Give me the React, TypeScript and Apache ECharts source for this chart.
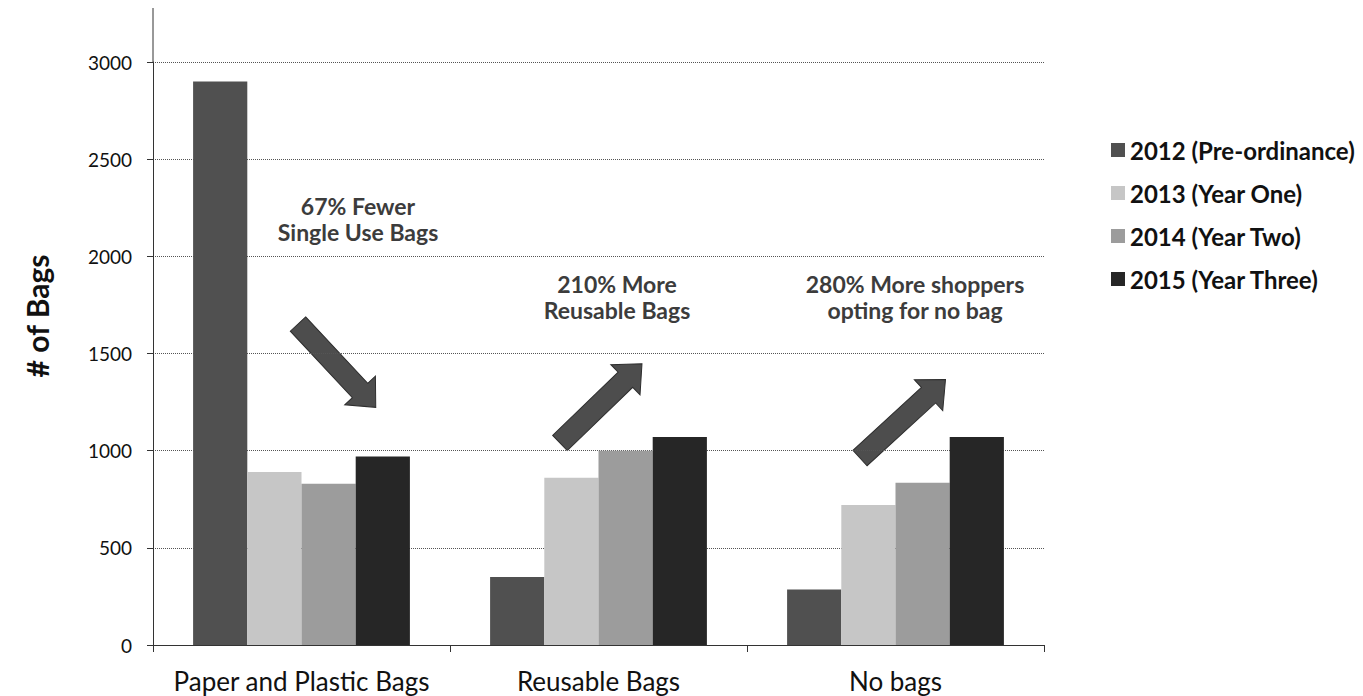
import React, { useEffect, useRef } from "react";
import * as echarts from "echarts";

const categories = ["Paper and Plastic Bags", "Reusable Bags", "No bags"];
const seriesNames = ["2012 (Pre-ordinance)", "2013 (Year One)", "2014 (Year Two)", "2015 (Year Three)"];
const values2012 = [2900, 350, 285];
const values2013 = [890, 860, 720];
const values2014 = [830, 1000, 835];
const values2015 = [970, 1070, 1070];
const seriesColors = ["#505050", "#c6c6c6", "#9c9c9c", "#262626"];
const yTicks = [0, 500, 1000, 1500, 2000, 2500, 3000];

const annotations = [
  { lines: ["67% Fewer", "Single Use Bags"], x: 358, y: 206 },
  { lines: ["210% More", "Reusable Bags"], x: 617, y: 284 },
  { lines: ["280% More shoppers", "opting for no bag"], x: 915, y: 284 },
];

const arrows = [
  { x: 298, y: 324, len: 114, angle: -47 },
  { x: 560, y: 443, len: 114, angle: 44 },
  { x: 860, y: 458, len: 116, angle: 42.5 },
];

function arrowShape(a: { x: number; y: number; len: number; angle: number }) {
  const L = a.len;
  const bw = 10.5;
  const hw = 21;
  const hl = 23;
  return {
    type: "group",
    x: a.x,
    y: a.y,
    rotation: (a.angle * Math.PI) / 180,
    children: [
      {
        type: "polygon",
        shape: {
          points: [
            [0, -bw],
            [L - hl, -bw],
            [L - hl, -hw],
            [L, 0],
            [L - hl, hw],
            [L - hl, bw],
            [0, bw],
          ],
        },
        style: { fill: "#4d4d4d", stroke: "#2e2e2e", lineWidth: 1 },
      },
    ],
  };
}

export default function App() {
  const ref = useRef<HTMLDivElement>(null);
  useEffect(() => {
    if (!ref.current) return;
    const chart = echarts.init(ref.current, undefined, { renderer: "svg" });
    const font = "Lato, 'Open Sans', sans-serif";
    const all = [values2012, values2013, values2014, values2015];
    const option: any = {
      animation: false,
      backgroundColor: "#ffffff",
      textStyle: { fontFamily: font },
      grid: { left: 153, right: 319, top: 62, bottom: 51, containLabel: false },
      legend: {
        orient: "vertical",
        left: 1106,
        top: 133,
        itemWidth: 14,
        itemHeight: 14,
        itemGap: 19,
        icon: "rect",
        data: seriesNames,
        textStyle: { fontFamily: font, fontSize: 24, fontWeight: "bold", color: "#111" },
      },
      xAxis: {
        type: "category",
        data: categories,
        axisLine: { lineStyle: { color: "#333", width: 1 } },
        axisTick: { show: true, alignWithLabel: false, interval: 0, length: 7, lineStyle: { color: "#333" } },
        axisLabel: { interval: 0, fontFamily: font, fontSize: 26, color: "#111", margin: 23 },
      },
      yAxis: {
        type: "value",
        min: 0,
        max: 3000,
        interval: 500,
        axisLine: { show: true, lineStyle: { color: "#333", width: 1 } },
        axisTick: { show: true, length: 6, lineStyle: { color: "#333" } },
        axisLabel: {
          fontFamily: font,
          fontSize: 19,
          color: "#111",
          margin: 21,
          formatter: (v: number) => (yTicks.includes(v) ? String(v) : ""),
        },
        splitLine: { show: true, lineStyle: { color: "#555", type: "dotted", width: 1 } },
      },
      series: seriesNames.map((name, i) => ({
        name,
        type: "bar",
        data: all[i],
        barGap: "0%",
        barCategoryGap: "27%",
        itemStyle: { color: seriesColors[i] },
      })),
      graphic: [
        { type: "line", shape: { x1: 153, y1: 8, x2: 153, y2: 62 }, style: { stroke: "#333", lineWidth: 1 } },
        {
          type: "text",
          x: 37,
          y: 316,
          rotation: Math.PI / 2,
          style: {
            text: "# of Bags",
            fontFamily: font,
            fontSize: 30,
            fontWeight: "bold",
            fill: "#111",
            textAlign: "center",
            textVerticalAlign: "middle",
          },
        },
        ...annotations.flatMap((a) =>
          a.lines.map((t, j) => ({
            type: "text",
            x: a.x,
            y: a.y + j * 26,
            style: {
              text: t,
              fontFamily: font,
              fontSize: 23,
              fontWeight: "bold",
              fill: "#3c3c3c",
              textAlign: "center",
              textVerticalAlign: "middle",
            },
          }))
        ),
        ...arrows.map(arrowShape),
      ],
    };
    chart.setOption(option);
    return () => chart.dispose();
  }, []);
  return (
    <div
      ref={ref}
      style={{ position: "absolute", left: 0, top: 0, width: 1363, height: 696 }}
    />
  );
}
